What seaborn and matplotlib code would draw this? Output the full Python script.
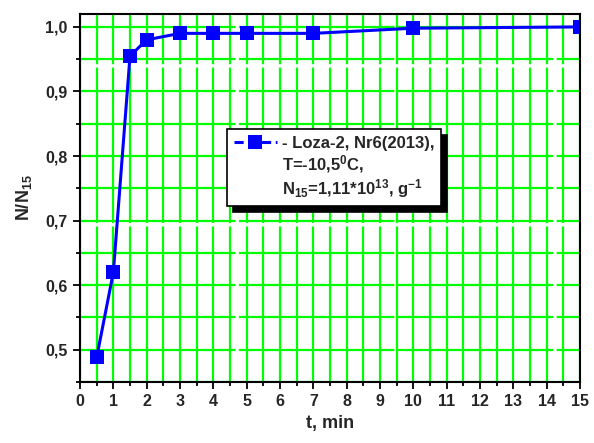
import matplotlib
matplotlib.use("Agg")
import matplotlib.pyplot as plt
import seaborn as sns
import pandas as pd
from matplotlib.lines import Line2D
from matplotlib.ticker import MultipleLocator, FuncFormatter

t_min = [0.5, 1, 1.5, 2, 3, 4, 5, 7, 10, 15]
ratio = [0.488, 0.620, 0.955, 0.980, 0.990, 0.990, 0.990, 0.990, 0.998, 1.000]
legend_lines = ["- Loza-2, Nr6(2013),", "T=-10,5$^0$C,",
                "N$_{15}$=1,11*10$^{13}$, g$^{-1}$"]

df = pd.DataFrame({"t": t_min, "r": ratio})

sns.set_style("white")
plt.rcParams['font.family'] = ['Liberation Sans', 'DejaVu Sans']
plt.rcParams['font.weight'] = 'bold'
plt.rcParams['mathtext.default'] = 'regular'

fig = plt.figure(figsize=(5.94, 4.43), dpi=100)
ax = fig.add_axes([0.1347, 0.1377, 0.8418, 0.8307])

sns.lineplot(data=df, x="t", y="r", ax=ax, color="#0000ff", linewidth=2.2,
             marker="s", markersize=10, markeredgewidth=0, legend=False)

ax.set_xlim(0, 15)
ax.set_ylim(0.45, 1.02)
ax.xaxis.set_major_locator(MultipleLocator(1))
ax.xaxis.set_minor_locator(MultipleLocator(0.5))
ax.yaxis.set_major_locator(MultipleLocator(0.1))
ax.yaxis.set_minor_locator(MultipleLocator(0.05))
ax.yaxis.set_major_formatter(FuncFormatter(lambda v, p: f"{v:.1f}".replace(".", ",")))

ax.grid(True, which="both", color="#00ff00", linewidth=1.6, linestyle=(0, (70, 1.5)))
ax.set_axisbelow(True)

for s in ax.spines.values():
    s.set_color("black")
    s.set_linewidth(1.5)
    s.set_zorder(5)

ax.tick_params(which="major", direction="out", length=5, width=1.3, color="black",
               labelsize=11.5, pad=4, bottom=True, left=True)
ax.tick_params(which="minor", direction="out", length=3, width=1.3, color="black",
               bottom=True, left=True)
for lab in ax.get_xticklabels() + ax.get_yticklabels():
    lab.set_fontweight("bold")

ax.set_xlabel("t, min", fontsize=13, fontweight="bold", labelpad=4)
ax.set_ylabel("N/N$_{15}$", fontsize=13, fontweight="bold", labelpad=8)

handle = Line2D([], [], color="#0000ff", linewidth=2.2, linestyle=(0, (3, 1.5)),
                marker="s", markersize=10, markeredgewidth=0)
blank = Line2D([], [], color="none", linewidth=0)
leg = ax.legend([handle, blank, blank], legend_lines, loc="upper left",
                bbox_to_anchor=(0.294, 0.687), borderaxespad=0,
                frameon=True, fancybox=False,
                shadow={"color": "black", "alpha": 1, "ox": 4, "oy": -4},
                edgecolor="black", framealpha=1, handlelength=2.6,
                borderpad=0.4, handletextpad=0.3, labelspacing=0.12,
                prop={"weight": "bold", "size": 12})
leg.get_frame().set_linewidth(1.2)

fig.savefig("out.png", dpi=100)
